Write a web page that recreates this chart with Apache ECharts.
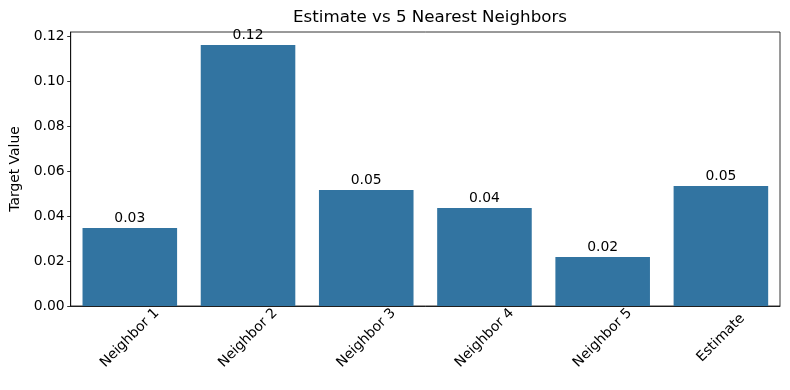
<!DOCTYPE html>
<html>
<head>
<meta charset="utf-8">
<script src="https://cdn.jsdelivr.net/npm/echarts@6/dist/echarts.min.js"></script>
<style>html,body{margin:0;padding:0;background:#fff}#c{width:790px;height:390px}</style>
</head>
<body>
<div id="c"></div>
<script>
const categories = ['Neighbor 1', 'Neighbor 2', 'Neighbor 3', 'Neighbor 4', 'Neighbor 5', 'Estimate'];
const values = [0.0347, 0.1160, 0.0516, 0.0436, 0.0218, 0.0533];
const yTicks = [0, 0.02, 0.04, 0.06, 0.08, 0.10, 0.12];

const FONT = 'DejaVu Sans';
const chart = echarts.init(document.getElementById('c'), null, {renderer: 'canvas'});
chart.setOption({
  animation: false,
  title: {
    text: 'Estimate vs 5 Nearest Neighbors',
    left: 425, top: 4, textAlign: 'center',
    textStyle: {fontFamily: FONT, fontSize: 16.7, fontWeight: 'normal', color: '#000'}
  },
  grid: {left: 70.7, right: 10, top: 32, bottom: 84, show: true, borderColor: '#000', borderWidth: 0.8, backgroundColor: 'transparent'},
  xAxis: {
    type: 'category',
    data: categories,
    axisLine: {lineStyle: {color: '#000', width: 0.8}},
    axisTick: {alignWithLabel: true, length: 3.5, lineStyle: {color: '#000', width: 0.8}},
    axisLabel: {rotate: 45, align: 'center', verticalAlign: 'middle', margin: 32, fontFamily: FONT, fontSize: 13.9, color: '#000', interval: 0}
  },
  yAxis: {
    type: 'value',
    min: 0, max: 0.1218, interval: 0.02,
    name: 'Target Value', nameLocation: 'middle', nameGap: 46, nameRotate: 90,
    nameTextStyle: {fontFamily: FONT, fontSize: 13.9, color: '#000'},
    axisLine: {show: true, lineStyle: {color: '#000', width: 0.8}},
    axisTick: {show: true, length: 3.5, lineStyle: {color: '#000', width: 0.8}},
    splitLine: {show: false},
    axisLabel: {
      margin: 6, fontFamily: FONT, fontSize: 13.9, color: '#000', showMaxLabel: false,
      formatter: v => yTicks.some(t => Math.abs(t - v) < 1e-9) ? v.toFixed(2) : ''
    }
  },
  series: [{
    type: 'bar',
    data: values,
    barCategoryGap: '20%',
    itemStyle: {color: '#3274a1'},
    label: {show: true, position: 'top', distance: 3, fontFamily: FONT, fontSize: 13.9, color: '#000',
      formatter: p => p.value.toFixed(2)}
  }]
});
</script>
</body>
</html>
